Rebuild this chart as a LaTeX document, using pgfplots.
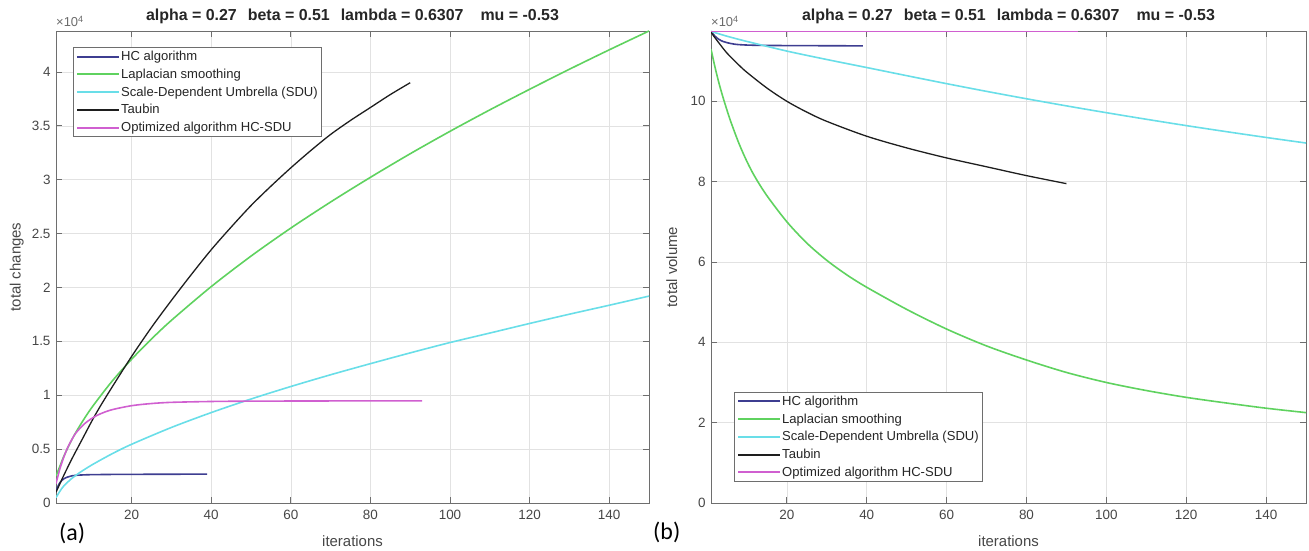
\documentclass[border=0pt]{standalone}
\usepackage{pgfplots}
\pgfplotsset{compat=1.18}
\usepackage{fontspec}
\setmainfont{Liberation Sans}
\newfontfamily\calfont{Carlito}
\definecolor{hcblue}{RGB}{62,62,145}
\definecolor{lapgreen}{RGB}{95,210,95}
\definecolor{sducyan}{RGB}{105,222,232}
\definecolor{taubin}{RGB}{30,30,30}
\definecolor{hcsdu}{RGB}{208,95,208}
\definecolor{axgray}{RGB}{110,110,110}
\definecolor{labgray}{RGB}{70,70,70}
\definecolor{gridgray}{RGB}{226,226,226}
\newcommand{\ttl}{alpha = 0.27\hspace{11bp}beta = 0.51\hspace{11bp}lambda = 0.6307\hspace{17bp}mu = -0.53}
\pgfplotsset{
  myaxis/.style={
    scale only axis, anchor=south west, clip mode=individual,
    xmin=1, xmax=150, xtick={20,40,60,80,100,120,140},
    grid=major, major grid style={draw=gridgray, line width=0.6bp},
    axis line style={draw=axgray, line width=0.8bp},
    tick style={draw=axgray, line width=0.8bp},
    major tick length=6bp,
    tick align=inside, xtick pos=both, ytick pos=both,
    ticklabel style={font=\fontsize{13.5}{16}\selectfont, text=labgray},
    xticklabel style={yshift=-4bp},
    yticklabel style={xshift=-2bp},
    /pgf/number format/assume math mode=true,
    label style={font=\fontsize{15}{18}\selectfont, text=labgray},
    xlabel={iterations},
    xlabel style={at={(axis description cs:0.5,-0.08)}, anchor=center},
    legend cell align=left,
    legend style={font=\fontsize{13.1}{15}\selectfont, draw=axgray, line width=0.6bp,
      inner sep=2.5bp, row sep=4.4bp, nodes={inner sep=1.2bp}, text=black!85},
    legend image code/.code={\draw[#1, line width=2bp] (0bp,0bp) -- (42bp,0bp);},
    every axis plot/.append style={line width=1.6bp, smooth, mark=none},
  }
}
\begin{document}
\begin{tikzpicture}
\path[use as bounding box] (0,0) rectangle (1309bp,551bp);
% ---------------- (a) ----------------
\begin{axis}[myaxis, at={(56bp,48bp)}, width=593bp, height=472bp,
  ymin=0, ymax=4.38, ytick={0,0.5,1,1.5,2,2.5,3,3.5,4},
  ylabel={total changes},
  ylabel style={at={(axis description cs:-0.066,0.5)}, anchor=center},
  legend style={at={(axis description cs:0.029,0.966)}, anchor=north west},
]
\addplot[hcblue] coordinates {(1,0.12)(2,0.19)(3,0.225)(4,0.242)(5,0.252)(6,0.257)(8,0.261)(10,0.263)(15,0.265)(20,0.266)(30,0.267)(39,0.268)};
\addlegendentry{HC algorithm}
\addplot[lapgreen] coordinates {(1,0.25)(2,0.343)(3,0.436)(5,0.589)(7,0.718)(10,0.886)(15,1.126)(20,1.334)(25,1.522)(30,1.695)(40,2.008)(50,2.291)(60,2.551)(70,2.793)(80,3.022)(90,3.241)(100,3.449)(110,3.648)(120,3.839)(130,4.025)(140,4.205)(150,4.38)};
\addlegendentry{Laplacian smoothing}
\addplot[sducyan] coordinates {(1,0.05)(2,0.11)(3,0.16)(5,0.229)(7,0.283)(10,0.353)(15,0.455)(20,0.545)(30,0.701)(40,0.839)(50,0.965)(60,1.081)(70,1.19)(80,1.293)(90,1.393)(100,1.489)(110,1.577)(120,1.666)(130,1.752)(140,1.835)(150,1.92)};
\addlegendentry{Scale-Dependent Umbrella (SDU)}
\addplot[taubin, line width=1.3bp] coordinates {(1,0.1)(2,0.18)(3,0.26)(5,0.41)(8,0.62)(10,0.76)(12,0.89)(15,1.07)(20,1.36)(25,1.63)(30,1.88)(35,2.12)(40,2.35)(45,2.56)(50,2.76)(55,2.94)(60,3.11)(65,3.27)(70,3.42)(75,3.55)(80,3.67)(85,3.79)(90,3.9)};
\addlegendentry{Taubin}
\addplot[hcsdu] coordinates {(1,0.18)(2,0.32)(3,0.43)(4,0.52)(5,0.59)(6,0.65)(8,0.73)(10,0.785)(12,0.825)(15,0.865)(20,0.903)(25,0.923)(30,0.934)(40,0.942)(50,0.945)(70,0.947)(93,0.947)};
\addlegendentry{Optimized algorithm HC-SDU}
\node[anchor=south west, inner sep=0, yshift=4bp, text=labgray!80, font=\fontsize{13}{15}\selectfont] at (rel axis cs:0,1) {×10\textsuperscript{4}};
\node[anchor=base, yshift=10bp, font=\fontsize{16}{19}\selectfont\bfseries, text=black!85] at (rel axis cs:0.5,1) {\ttl};
\node[anchor=base west, inner sep=0, xshift=3bp, yshift=-37bp, font=\calfont\fontsize{24}{28}\selectfont] at (rel axis cs:0,0) {(a)};
\end{axis}
% ---------------- (b) ----------------
\begin{axis}[myaxis, at={(711bp,48bp)}, width=595bp, height=472bp,
  ymin=0, ymax=11.75, ytick={0,2,4,6,8,10},
  ylabel={total volume},
  ylabel style={at={(axis description cs:-0.066,0.5)}, anchor=center},
  legend style={at={(axis description cs:0.039,0.045)}, anchor=south west},
]
\addplot[hcblue] coordinates {(1,11.74)(2,11.62)(3,11.54)(4,11.49)(5,11.46)(7,11.42)(10,11.4)(15,11.39)(25,11.385)(39,11.38)};
\addlegendentry{HC algorithm}
\addplot[lapgreen] coordinates {(1,11.3)(2,10.85)(3,10.45)(4,10.1)(5,9.78)(6,9.48)(8,8.95)(10,8.5)(12,8.12)(15,7.65)(20,7.0)(25,6.47)(30,6.04)(35,5.68)(40,5.37)(50,4.82)(60,4.33)(70,3.91)(80,3.56)(90,3.25)(100,3.0)(110,2.8)(120,2.63)(130,2.49)(140,2.36)(150,2.25)};
\addlegendentry{Laplacian smoothing}
\addplot[sducyan] coordinates {(1,11.74)(5,11.62)(10,11.49)(20,11.25)(30,11.04)(40,10.84)(50,10.638)(60,10.439)(70,10.247)(80,10.063)(90,9.886)(100,9.716)(110,9.553)(120,9.395)(130,9.245)(140,9.1)(150,8.961)};
\addlegendentry{Scale-Dependent Umbrella (SDU)}
\addplot[taubin, line width=1.3bp] coordinates {(1,11.72)(2,11.58)(3,11.45)(5,11.2)(8,10.9)(10,10.72)(15,10.33)(20,10.0)(25,9.73)(30,9.5)(40,9.13)(50,8.84)(60,8.59)(70,8.37)(80,8.15)(90,7.95)};
\addlegendentry{Taubin}
\addplot[hcsdu] coordinates {(1,11.74)(30,11.74)(60,11.74)(93,11.74)};
\addlegendentry{Optimized algorithm HC-SDU}
\node[anchor=south west, inner sep=0, yshift=4bp, text=labgray!80, font=\fontsize{13}{15}\selectfont] at (rel axis cs:0,1) {×10\textsuperscript{4}};
\node[anchor=base, yshift=10bp, font=\fontsize{16}{19}\selectfont\bfseries, text=black!85] at (rel axis cs:0.5,1) {\ttl};
\node[anchor=base west, inner sep=0, xshift=-58bp, yshift=-37bp, font=\calfont\fontsize{24}{28}\selectfont] at (rel axis cs:0,0) {(b)};
\end{axis}
\end{tikzpicture}
\end{document}
